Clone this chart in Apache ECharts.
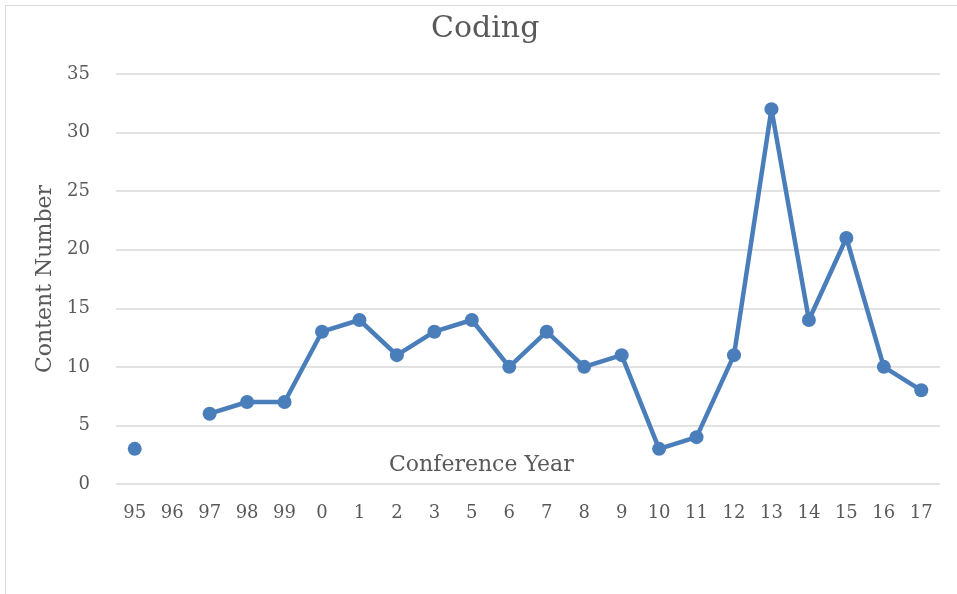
<!DOCTYPE html>
<html><head><meta charset="utf-8">
<script src="https://cdn.jsdelivr.net/npm/echarts@6/dist/echarts.min.js"></script>
<style>html,body{margin:0;padding:0;background:#fff}#c{width:957px;height:594px}</style>
</head><body><div id="c"></div>
<script>
const categories = ['95','96','97','98','99','0','1','2','3','5','6','7','8','9','10','11','12','13','14','15','16','17'];
const values = [3, null, 6, 7, 7, 13, 14, 11, 13, 14, 10, 13, 10, 11, 3, 4, 11, 32, 14, 21, 10, 8];
const yTicks = {min: 0, max: 35, interval: 5};
const FONT = 'DejaVu Serif';
const chart = echarts.init(document.getElementById('c'));
chart.setOption({
  animation: false,
  backgroundColor: '#fff',
  graphic: [{type: 'rect', shape: {x: 5.5, y: 5.5, width: 1100, height: 1000}, style: {fill: 'none', stroke: '#d9d9d9', lineWidth: 1}, silent: true, z: -1}],
  title: [
    {text: 'Coding', left: 426, top: 9, textStyle: {fontFamily: FONT, fontSize: 30, fontWeight: 'normal', color: '#595959'}},
    {text: 'Conference Year', left: 384, top: 449, textStyle: {fontFamily: FONT, fontSize: 22, fontWeight: 'normal', color: '#595959'}}
  ],
  grid: {left: 116, right: 17, top: 74, bottom: 110, containLabel: false},
  xAxis: {
    type: 'category', data: categories, boundaryGap: true,
    axisLine: {show: false}, axisTick: {show: false},
    axisLabel: {fontFamily: FONT, fontSize: 18, color: '#595959', margin: 20, interval: 0}
  },
  yAxis: {
    type: 'value', min: yTicks.min, max: yTicks.max, interval: yTicks.interval,
    name: 'Content Number', nameLocation: 'middle', nameGap: 53,
    nameTextStyle: {fontFamily: FONT, fontSize: 22, color: '#595959'},
    axisLine: {show: false}, axisTick: {show: false},
    axisLabel: {fontFamily: FONT, fontSize: 18, color: '#595959', margin: 26},
    splitLine: {lineStyle: {color: '#d9d9d9', width: 1.5}}
  },
  series: [{
    type: 'line', data: values, connectNulls: false,
    symbol: 'circle', symbolSize: 14,
    lineStyle: {color: '#4a7ebb', width: 4.5},
    itemStyle: {color: '#4a7ebb'}
  }]
});
</script></body></html>
